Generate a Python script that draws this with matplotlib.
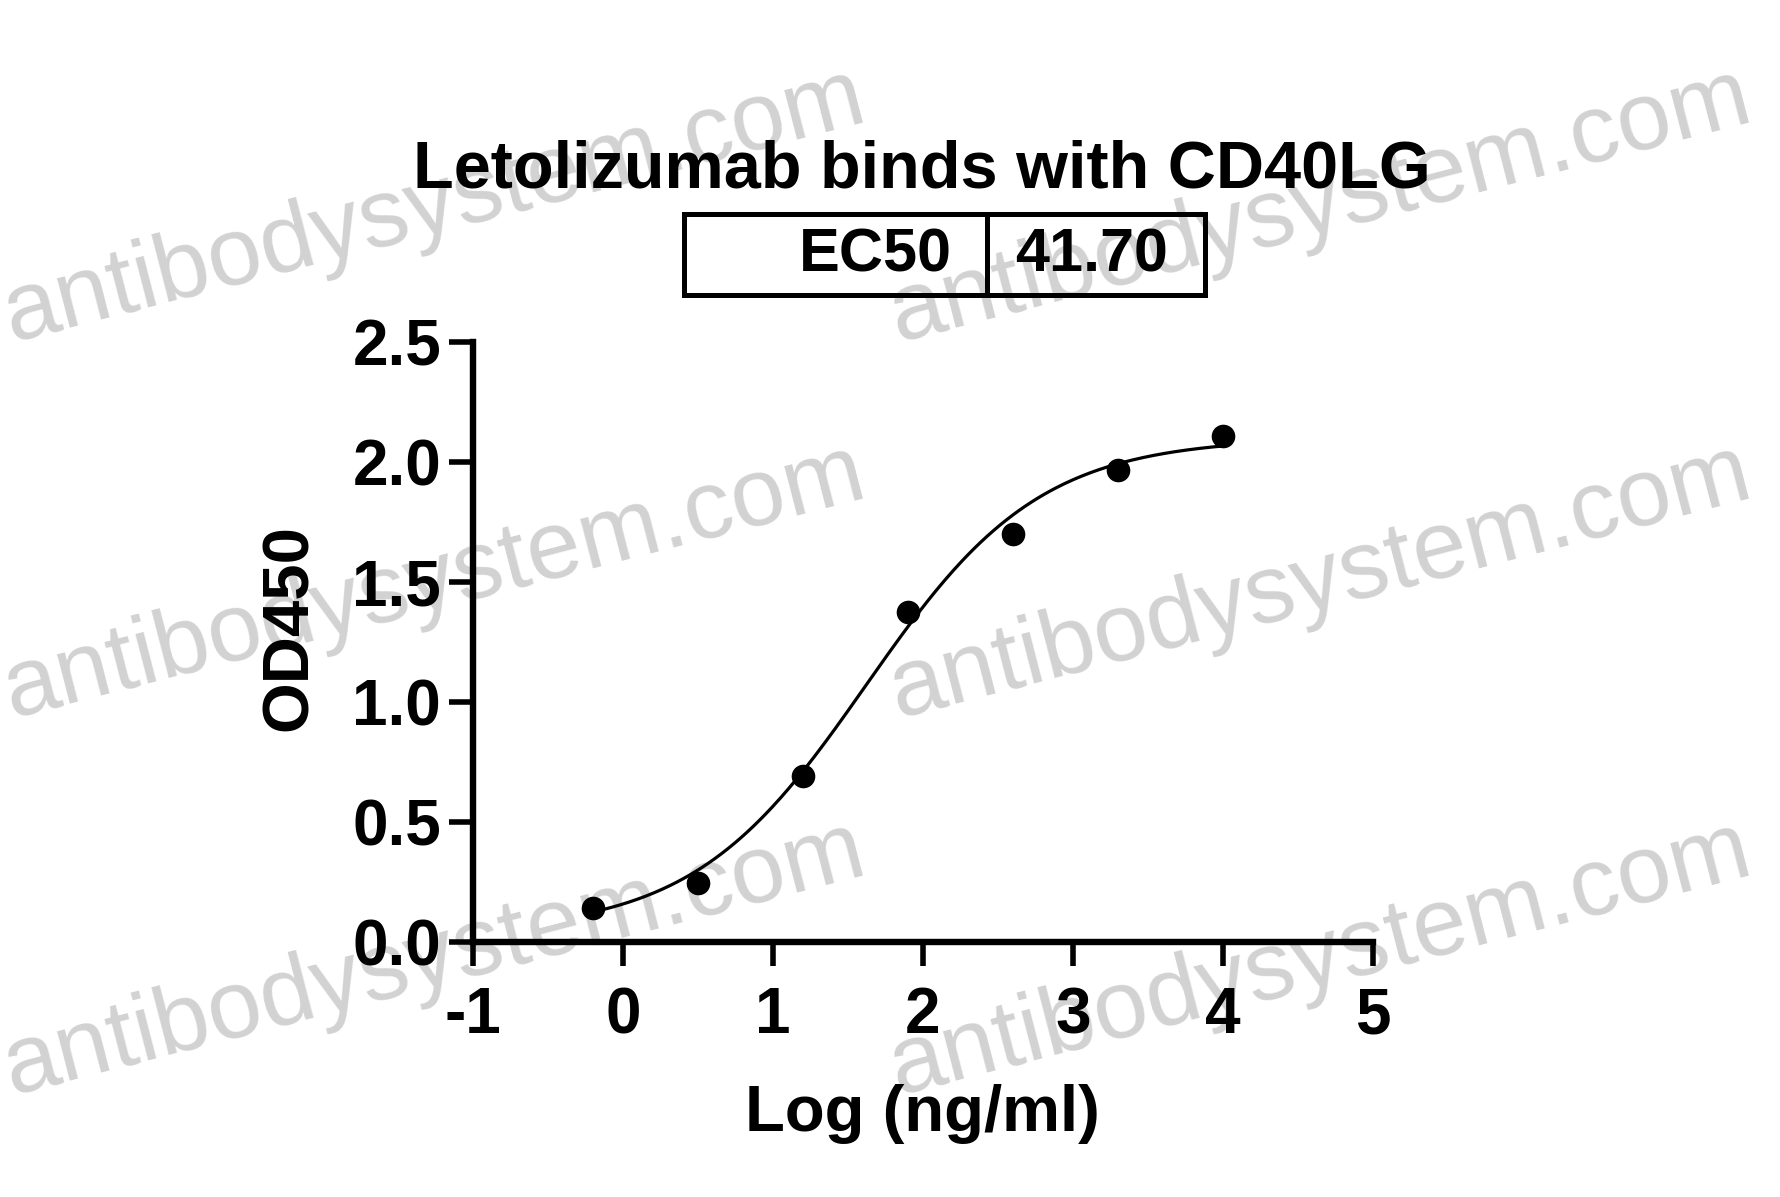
import numpy as np
import matplotlib
matplotlib.use("Agg")
import matplotlib.pyplot as plt
from matplotlib.patches import Rectangle
from matplotlib.lines import Line2D

# measured data (log concentration vs OD450)
log_conc = [-0.2, 0.5, 1.2, 1.9, 2.6, 3.3, 4.0]
od450 = [0.140, 0.247, 0.692, 1.375, 1.70, 1.967, 2.11]

# 4PL fit parameters
fit_bottom = 0.04
fit_top = 2.10
ec50 = 41.70
fit_hill = 0.75

x_ticks = [-1, 0, 1, 2, 3, 4, 5]
y_ticks = [0.0, 0.5, 1.0, 1.5, 2.0, 2.5]
y_tick_labels = ["0.0", "0.5", "1.0", "1.5", "2.0", "2.5"]

title = "Letolizumab binds with CD40LG"
x_label = "Log (ng/ml)"
y_label = "OD450"
watermark = "antibodysystem.com"

W, H = 1781, 1197
DPI = 100
FONT = "Liberation Sans"


def fx(px):
    return px / W


def fy(py):
    return 1 - py / H


fig = plt.figure(figsize=(W / DPI, H / DPI), dpi=DPI)
fig.patch.set_facecolor("white")

# watermark, behind everything
for x0 in (12, 898):
    for y0 in (342, 718, 1095):
        fig.text(fx(x0), fy(y0), watermark, fontsize=70, family=FONT,
                 color="#d2d2d2", rotation=14.5, rotation_mode="anchor",
                 ha="left", va="baseline", zorder=-5)

ax = fig.add_axes([fx(473), fy(942), fx(1373) - fx(473), fy(342) - fy(942)])
ax.set_facecolor("none")

# fitted curve spans the measured range
xs = np.linspace(log_conc[0], log_conc[-1], 300)
curve = fit_bottom + (fit_top - fit_bottom) / (1 + 10 ** ((np.log10(ec50) - xs) * fit_hill))
ax.plot(xs, curve, color="black", linewidth=2.3, zorder=3)
ax.plot(log_conc, od450, "o", color="black", markersize=16, zorder=4, clip_on=False)

ax.set_xlim(-1, 5)
ax.set_ylim(0, 2.5)
ax.set_xticks(x_ticks)
ax.set_xticklabels([str(t) for t in x_ticks])
ax.set_yticks(y_ticks)
ax.set_yticklabels(y_tick_labels)

for side in ("top", "right"):
    ax.spines[side].set_visible(False)
for side in ("left", "bottom"):
    ax.spines[side].set_linewidth(4.6)
    ax.spines[side].set_capstyle("projecting")

ax.tick_params(axis="both", direction="out", length=17, width=4, color="black")
ax.tick_params(axis="y", pad=6)
ax.tick_params(axis="x", pad=15)
for lab in ax.get_xticklabels() + ax.get_yticklabels():
    lab.set_fontfamily(FONT)
    lab.set_fontweight("bold")
    lab.set_fontsize(46)

# axis titles placed in figure pixels
fig.text(fx(922), fy(1131), x_label, fontsize=47, fontweight="bold", family=FONT,
         ha="center", va="baseline")
fig.text(fx(290), fy(628), y_label, fontsize=47, fontweight="bold", family=FONT,
         ha="center", va="center", rotation=90)

# title and EC50 table
fig.text(fx(922), fy(188), title, fontsize=48, fontweight="bold", family=FONT,
         ha="center", va="baseline")

lw_box = 3.6
fig.patches.append(Rectangle((fx(684), fy(295)), fx(1205) - fx(684), fy(214) - fy(295),
                             transform=fig.transFigure, fill=False, edgecolor="black",
                             linewidth=lw_box))
fig.lines.append(Line2D([fx(987), fx(987)], [fy(295), fy(214)], transform=fig.transFigure,
                        color="black", linewidth=lw_box))
fig.text(fx(952), fy(272), "EC50", fontsize=44, fontweight="bold", family=FONT,
         ha="right", va="baseline")
fig.text(fx(1015), fy(272), f"{ec50:.2f}", fontsize=44, fontweight="bold", family=FONT,
         ha="left", va="baseline")

fig.savefig("out.png", dpi=DPI)
